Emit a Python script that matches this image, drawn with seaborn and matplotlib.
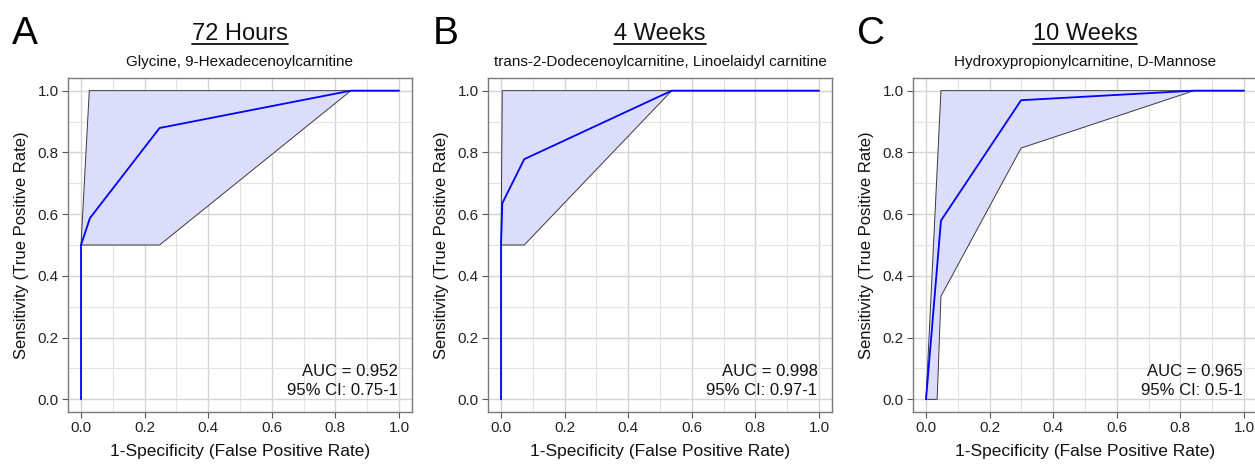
import numpy as np
import matplotlib
matplotlib.use("Agg")
import matplotlib.pyplot as plt
import seaborn as sns
from matplotlib.lines import Line2D

# Panel titles / subtitles
letters = ["A", "B", "C"]
titles = ["72 Hours", "4 Weeks", "10 Weeks"]
subtitles = ["Glycine, 9-Hexadecenoylcarnitine",
             "trans-2-Dodecenoylcarnitine, Linoelaidyl carnitine",
             "Hydroxypropionylcarnitine, D-Mannose"]
auc_vals = ["0.952", "0.998", "0.965"]
ci_vals = ["0.75-1", "0.97-1", "0.5-1"]

# ROC curves (x = 1-specificity, y = sensitivity)
a_roc_x = [0, 0, 0.028, 0.247, 0.849, 1]
a_roc_y = [0, 0.5, 0.587, 0.879, 1, 1]
b_roc_x = [0, 0, 0.004, 0.073, 0.537, 1]
b_roc_y = [0, 0.5, 0.635, 0.778, 1, 1]
c_roc_x = [0, 0.047, 0.299, 0.843, 1]
c_roc_y = [0, 0.579, 0.969, 1, 1]

# 95% CI band, upper and lower edges
a_up_x = [0, 0.026, 1]
a_up_y = [0.5, 1, 1]
a_lo_x = [0, 0.247, 0.849, 1]
a_lo_y = [0.5, 0.5, 1, 1]
b_up_x = [0, 0.004, 1]
b_up_y = [0.5, 1, 1]
b_lo_x = [0, 0.073, 0.537, 1]
b_lo_y = [0.5, 0.5, 1, 1]
c_up_x = [0, 0.047, 1]
c_up_y = [0, 1, 1]
c_lo_x = [0, 0.035, 0.047, 0.299, 0.843, 1]
c_lo_y = [0, 0, 0.334, 0.814, 1, 1]

ticks = [0.0, 0.2, 0.4, 0.6, 0.8, 1.0]
tick_labels = ["0.0", "0.2", "0.4", "0.6", "0.8", "1.0"]

sns.set_style("white")
plt.rcParams['font.family'] = ['Liberation Sans', 'DejaVu Sans']

fig = plt.figure(figsize=(12.55, 4.67), dpi=100)
lefts = [68.3 / 1255, 488.3 / 1255, 913.3 / 1255]
W = 343.4 / 1255
B = 1 - 411.7 / 467
H = (411.7 - 78.3) / 467

panels = [
    (a_roc_x, a_roc_y, a_up_x, a_up_y, a_lo_x, a_lo_y),
    (b_roc_x, b_roc_y, b_up_x, b_up_y, b_lo_x, b_lo_y),
    (c_roc_x, c_roc_y, c_up_x, c_up_y, c_lo_x, c_lo_y),
]

title_objs = []
for i, (rx, ry, ux, uy, lx, ly) in enumerate(panels):
    ax = fig.add_axes([lefts[i], B, W, H])
    # CI band
    ax.fill(np.r_[ux, lx[::-1]], np.r_[uy, ly[::-1]], color="#dcdcfb", lw=0, zorder=2)
    sns.lineplot(x=ux, y=uy, sort=False, estimator=None, color="#3a3a3a", lw=0.7, ax=ax, zorder=3)
    sns.lineplot(x=lx, y=ly, sort=False, estimator=None, color="#3a3a3a", lw=0.7, ax=ax, zorder=3)
    sns.lineplot(x=rx, y=ry, sort=False, estimator=None, color="#0000ff", lw=1.3, ax=ax, zorder=4)

    ax.set_xlim(-0.04, 1.04)
    ax.set_ylim(-0.04, 1.04)
    ax.set_xticks(ticks)
    ax.set_xticklabels(tick_labels)
    ax.set_yticks(ticks)
    ax.set_yticklabels(tick_labels)
    ax.set_xticks(np.arange(0.1, 1.0, 0.2), minor=True)
    ax.set_yticks(np.arange(0.1, 1.0, 0.2), minor=True)
    ax.grid(True, which="major", color="#d4d4d4", lw=1.0, zorder=0)
    ax.grid(True, which="minor", color="#e2e2e2", lw=0.8, zorder=0)
    ax.set_axisbelow(True)
    ax.tick_params(axis="both", which="major", direction="out", length=4, width=0.8,
                   color="#555555", labelsize=11, labelcolor="#222222", pad=3,
                   bottom=True, left=True)
    ax.tick_params(axis="both", which="minor", length=0)
    for s in ax.spines.values():
        s.set_color("#7a7a7a")
        s.set_linewidth(1.0)
    ax.set_xlabel("1-Specificity (False Positive Rate)", fontsize=12.5, color="#111111", labelpad=6)
    ax.set_ylabel("Sensitivity (True Positive Rate)", fontsize=12, color="#111111", labelpad=6)

    ax.text(0.995, 0.075, "AUC = " + auc_vals[i], ha="right", va="baseline",
            fontsize=12, color="#111111", zorder=5)
    ax.text(0.995, 0.013, "95% CI: " + ci_vals[i], ha="right", va="baseline",
            fontsize=12, color="#111111", zorder=5)

    cx = lefts[i] + W / 2
    t = fig.text(cx, 1 - 39.5 / 467, titles[i], ha="center", va="baseline",
                 fontsize=17, color="#111111")
    title_objs.append(t)
    fig.text(cx, 1 - 66 / 467, subtitles[i], ha="center", va="baseline",
             fontsize=11, color="#111111")
    fig.text(lefts[i] - 56 / 1255, 1 - 44 / 467, letters[i], ha="left", va="baseline",
             fontsize=28, color="#000000")

# underline the titles
fig.canvas.draw()
r = fig.canvas.get_renderer()
for t in title_objs:
    bb = t.get_window_extent(renderer=r).transformed(fig.transFigure.inverted())
    yl = 1 - 43.5 / 467
    fig.add_artist(Line2D([bb.x0, bb.x1], [yl, yl], color="#111111", lw=1.3,
                          transform=fig.transFigure))

fig.savefig("out.png", dpi=100)
